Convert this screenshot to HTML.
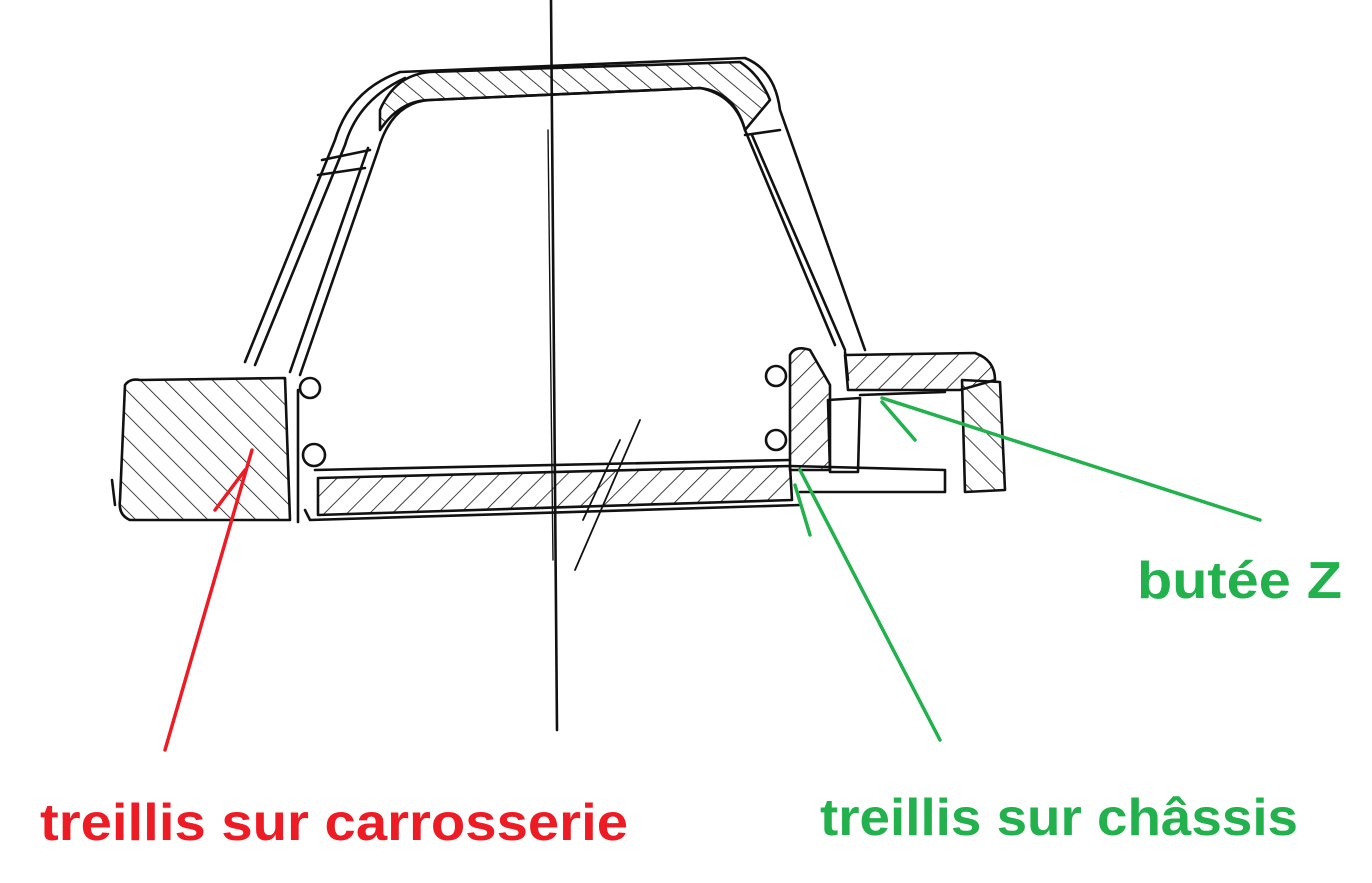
<!DOCTYPE html>
<html><head><meta charset="utf-8"><style>
html,body{margin:0;padding:0;background:#fff;}
svg{display:block;}
</style></head><body>
<svg width="1372" height="883" viewBox="0 0 1372 883" xmlns="http://www.w3.org/2000/svg">
<defs>
<pattern id="h" width="16" height="16" patternUnits="userSpaceOnUse" patternTransform="rotate(45)">
<line x1="0" y1="0" x2="0" y2="16" stroke="#111" stroke-width="1.6"/>
</pattern>
<pattern id="h2" width="14" height="14" patternUnits="userSpaceOnUse" patternTransform="rotate(-50)">
<line x1="0" y1="0" x2="0" y2="14" stroke="#111" stroke-width="1.6"/>
</pattern>
<pattern id="h3" width="17" height="17" patternUnits="userSpaceOnUse" patternTransform="rotate(-45)">
<line x1="0" y1="0" x2="0" y2="17" stroke="#111" stroke-width="1.6"/>
</pattern>
</defs>
<g fill="none" stroke="#111" stroke-width="2.6" stroke-linecap="round" stroke-linejoin="round">
<line x1="551" y1="0" x2="557" y2="730"/>
<line x1="548" y1="130" x2="553" y2="560" stroke-width="1.4"/>
<path d="M380,110 Q395,75 430,72 L740,62 Q760,75 770,100 L745,130 Q735,95 700,88 L430,100 Q400,100 380,130 Z" fill="url(#h2)"/>
<path d="M245,362 L335,140 Q350,90 400,72 L745,58 Q775,70 780,110 L865,350"/>
<path d="M255,365 L345,145 Q358,100 405,78"/>
<path d="M300,375 L378,150 Q392,102 430,100 L700,88 Q735,92 745,130 L835,345"/>
<path d="M290,372 L368,148"/>
<path d="M752,135 L845,350"/>
<path d="M322,160 L370,150 M318,175 L365,168 M745,135 L780,130"/>
<path d="M125,385 Q130,378 140,380 L285,378 L290,520 L130,520 Q118,515 120,500 Z" fill="url(#h3)"/>
<path d="M112,480 L115,505 M298,390 L298,522"/>
<circle cx="310" cy="388" r="10"/>
<circle cx="314" cy="455" r="11"/>
<path d="M318,478 L790,466 L792,500 L318,515 Z" fill="url(#h)"/>
<path d="M315,470 L790,460 M790,466 L945,470 L945,492 L800,492"/>
<path d="M305,510 L310,520 L800,505"/>
<path d="M640,420 L575,570 M620,440 L583,520" stroke-width="1.8"/>
<path d="M790,355 Q795,345 810,350 L830,385 L830,470 L790,470 Z" fill="url(#h)"/>
<circle cx="776" cy="376" r="10"/>
<circle cx="776" cy="440" r="10"/>
<path d="M828,400 L860,398 L858,472 L830,472 Z"/>
<path d="M845,355 L975,353 Q995,360 995,380 L960,390 L848,390 Z" fill="url(#h)"/>
<path d="M962,380 L1000,382 L1005,490 L965,492 Z" fill="url(#h3)"/>
<path d="M845,352 L848,380 M860,395 L945,392"/>
</g>
<g stroke-width="3.5" stroke-linecap="round" fill="none">
<line x1="165" y1="750" x2="252" y2="450" stroke="#ed1c24"/>
<line x1="215" y1="510" x2="245" y2="470" stroke="#ed1c24"/>
<line x1="940" y1="740" x2="800" y2="470" stroke="#22b14c"/>
<line x1="810" y1="535" x2="795" y2="485" stroke="#22b14c"/>
<line x1="1260" y1="520" x2="882" y2="398" stroke="#22b14c"/>
<line x1="915" y1="440" x2="882" y2="402" stroke="#22b14c"/>
</g>
<g font-family="Liberation Sans, sans-serif" font-weight="bold" font-size="52">
<text x="40" y="840" fill="#ed1c24" textLength="588" lengthAdjust="spacingAndGlyphs">treillis sur carrosserie</text>
<text x="820" y="835" fill="#22b14c" textLength="478" lengthAdjust="spacingAndGlyphs">treillis sur châssis</text>
<text x="1137" y="598" fill="#22b14c" textLength="205" lengthAdjust="spacingAndGlyphs">butée Z</text>
</g>
</svg>
</body></html>
